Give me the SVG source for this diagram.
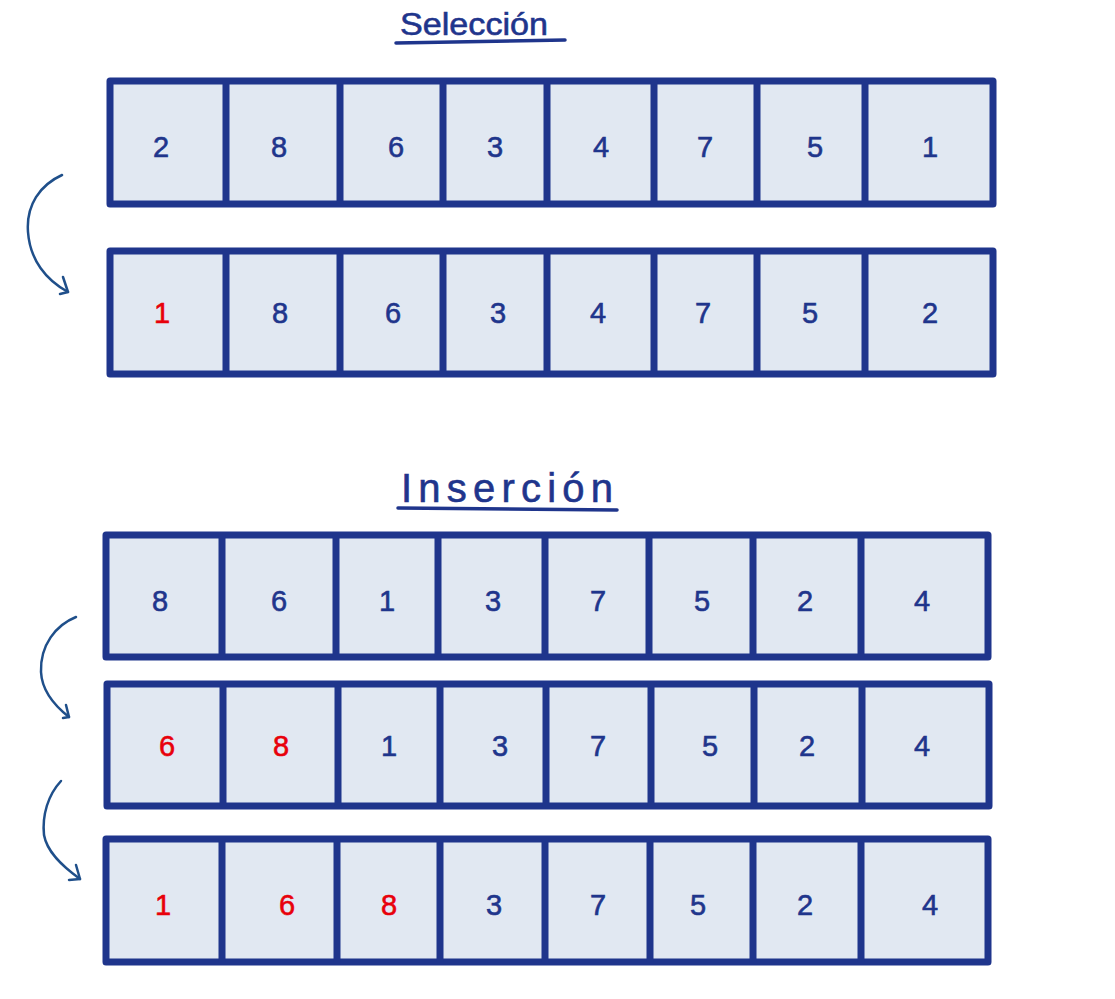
<svg xmlns="http://www.w3.org/2000/svg" width="1115" height="999" viewBox="0 0 1115 999">
<style>
.box{fill:#e1e8f2;stroke:#1f358c;stroke-width:7;stroke-linejoin:round}
.div{stroke:#1f358c;stroke-width:7}
.d{font-family:"Liberation Sans",Arial,sans-serif;font-size:29px;fill:#1f358c;stroke:#1f358c;stroke-width:0.6;text-anchor:middle}
.r{fill:#e8000b;stroke:#e8000b}
.t{font-family:"Liberation Sans",Arial,sans-serif;fill:#1f358c;stroke:#1f358c;stroke-width:0.6}
.ul{stroke:#1f358c;stroke-width:3.5;stroke-linecap:round;fill:none}
.arr{stroke:#1f4f8a;stroke-width:2.5;fill:none;stroke-linecap:round;stroke-linejoin:round}
</style>
<rect width="1115" height="999" fill="#fff"/>
<g id="title-seleccion">
<text class="t" x="400" y="35" font-size="32" textLength="148" lengthAdjust="spacingAndGlyphs">Selección</text>
<path class="ul" d="M396 43 L565 40"/>
</g>
<g id="sel-row1">
<rect class="box" x="110" y="81" width="883" height="123"/>
<path class="div" d="M226 81V204M340 81V204M443 81V204M547 81V204M654 81V204M757 81V204M865 81V204"/>
<text class="d" y="157"><tspan x="161">2</tspan><tspan x="279">8</tspan><tspan x="396">6</tspan><tspan x="495">3</tspan><tspan x="601">4</tspan><tspan x="705">7</tspan><tspan x="815">5</tspan><tspan x="930">1</tspan></text>
</g>
<g id="sel-row2">
<rect class="box" x="110" y="251" width="883" height="123"/>
<path class="div" d="M226 251V374M340 251V374M443 251V374M547 251V374M654 251V374M757 251V374M865 251V374"/>
<text class="d" y="323"><tspan class="r" x="162">1</tspan><tspan x="280">8</tspan><tspan x="393">6</tspan><tspan x="498">3</tspan><tspan x="598">4</tspan><tspan x="703">7</tspan><tspan x="810">5</tspan><tspan x="930">2</tspan></text>
</g>
<g id="title-insercion">
<text class="t" x="401" y="502" font-size="40" textLength="212" lengthAdjust="spacing">Inserción</text>
<path class="ul" d="M398 508 L617 510"/>
</g>
<g id="ins-row1">
<rect class="box" x="106" y="535" width="882" height="122"/>
<path class="div" d="M222 535V657M336 535V657M438 535V657M545 535V657M649 535V657M753 535V657M861 535V657"/>
<text class="d" y="611"><tspan x="160">8</tspan><tspan x="279">6</tspan><tspan x="387">1</tspan><tspan x="493">3</tspan><tspan x="598">7</tspan><tspan x="702">5</tspan><tspan x="805">2</tspan><tspan x="922">4</tspan></text>
</g>
<g id="ins-row2">
<rect class="box" x="107" y="684" width="882" height="122"/>
<path class="div" d="M223 684V806M338 684V806M440 684V806M546 684V806M651 684V806M754 684V806M862 684V806"/>
<text class="d" y="756"><tspan class="r" x="167">6</tspan><tspan class="r" x="281">8</tspan><tspan x="389">1</tspan><tspan x="500">3</tspan><tspan x="598">7</tspan><tspan x="710">5</tspan><tspan x="807">2</tspan><tspan x="922">4</tspan></text>
</g>
<g id="ins-row3">
<rect class="box" x="106" y="839" width="882" height="123"/>
<path class="div" d="M222 839V962M337 839V962M440 839V962M545 839V962M650 839V962M753 839V962M861 839V962"/>
<text class="d" y="915"><tspan class="r" x="163">1</tspan><tspan class="r" x="287">6</tspan><tspan class="r" x="389">8</tspan><tspan x="494">3</tspan><tspan x="598">7</tspan><tspan x="698">5</tspan><tspan x="805">2</tspan><tspan x="930">4</tspan></text>
</g>
<g id="connectors">
<path class="arr" d="M62 175 C40 185 26 205 28 232 C30 260 46 280 68 292"/>
<path class="arr" d="M63 277 L68 292 L60 294"/>
<path class="arr" d="M76 617 C56 625 40 645 41 672 C42 692 55 706 69 717"/>
<path class="arr" d="M66 705 L69 717 L63 718"/>
<path class="arr" d="M61 781 C48 795 42 815 44 835 C47 852 62 866 80 879"/>
<path class="arr" d="M76 865 L80 879 L69 880"/>
</g>
</svg>
